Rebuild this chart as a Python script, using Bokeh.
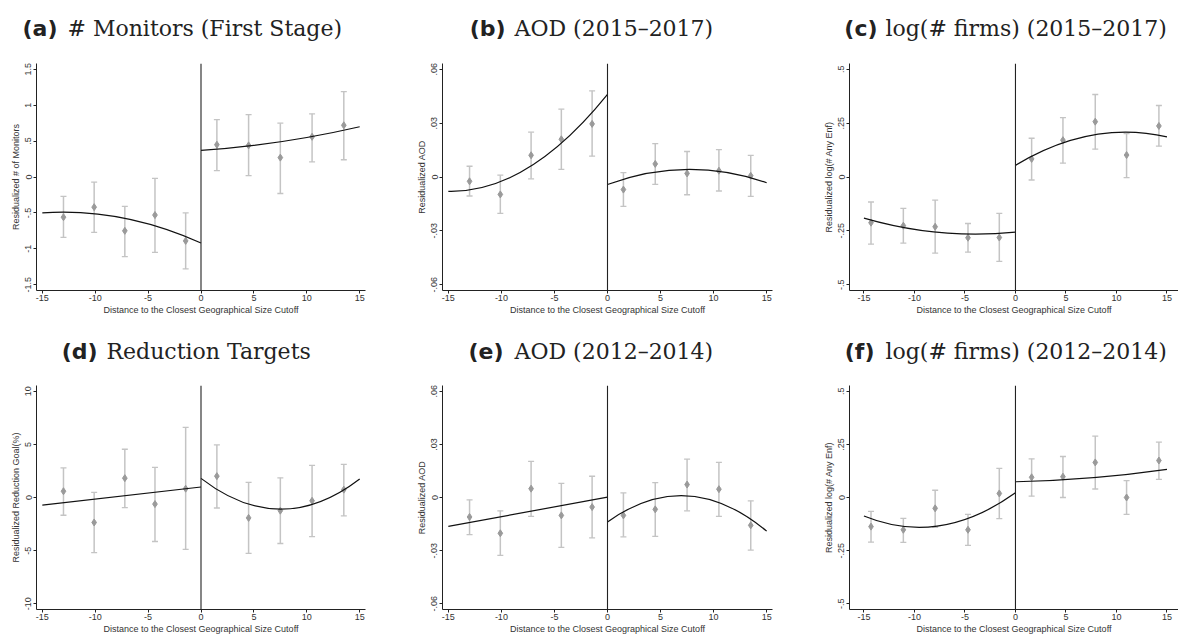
from bokeh.plotting import figure
from bokeh.layouts import column, row
from bokeh.models import Range1d, FixedTicker, Span, ColumnDataSource
from bokeh.core.properties import value
from bokeh.embed import file_html
from bokeh.resources import INLINE

# ---------------- data ----------------
x_ticks = [-15, -10, -5, 0, 5, 10, 15]
x_tick_labels = ["-15", "-10", "-5", "0", "5", "10", "15"]

panel_letters = ["(a)", "(b)", "(c)", "(d)", "(e)", "(f)"]
panel_titles = ["# Monitors (First Stage)", "AOD (2015\u20132017)", "log(# firms) (2015\u20132017)",
                "Reduction Targets", "AOD (2012\u20132014)", "log(# firms) (2012\u20132014)"]
y_labels = ["Residualized # of Monitors", "Residualized AOD", "Residualized log(# Any Enf)",
            "Residualized Reduction Goal(%)", "Residualized AOD", "Residualized log(# Any Enf)"]
x_label = "Distance to the Closest Geographical Size Cutoff"

# bin centres
bins_ab = [-13.0, -10.1, -7.2, -4.35, -1.45, 1.5, 4.5, 7.5, 10.5, 13.5]
bins_cf = [-14.3, -11.1, -7.95, -4.7, -1.6, 1.6, 4.7, 7.9, 11.0, 14.2]
# fitted curves are read at start / middle / end of each side
fit_x_left = [-15, -7.5, 0]
fit_x_right = [0, 7.5, 15]

# (a) # Monitors
a_mean = [-0.56, -0.42, -0.75, -0.53, -0.89, 0.45, 0.44, 0.27, 0.56, 0.72]
a_hi = [-0.27, -0.07, -0.41, -0.02, -0.50, 0.80, 0.87, 0.75, 0.88, 1.19]
a_lo = [-0.84, -0.77, -1.11, -1.05, -1.28, 0.09, 0.02, -0.23, 0.21, 0.24]
a_fit_left = [-0.500, -0.567, -0.920]
a_fit_right = [0.37, 0.49, 0.70]
a_yticks = [-1.5, -1, -0.5, 0, 0.5, 1, 1.5]
a_ylabels = ["-1.5", "-1", "-.5", "0", ".5", "1", "1.5"]

# (b) AOD 2015-2017
b_mean = [-0.0024, -0.0097, 0.0121, 0.0210, 0.0296, -0.0070, 0.0073, 0.0020, 0.0035, 0.0007]
b_hi = [0.0060, 0.0010, 0.0250, 0.0378, 0.0480, 0.0024, 0.0186, 0.0142, 0.0153, 0.0120]
b_lo = [-0.0106, -0.0203, -0.0010, 0.0043, 0.0116, -0.0164, -0.0041, -0.0099, -0.0078, -0.0108]
b_fit_left = [-0.0080, 0.0050, 0.0460]
b_fit_right = [-0.0042, 0.0042, -0.0032]
aod_yticks = [-0.06, -0.03, 0, 0.03, 0.06]
aod_ylabels = ["-.06", "-.03", "0", ".03", ".06"]

# (c) log(# firms) 2015-2017
c_mean = [-0.212, -0.226, -0.231, -0.282, -0.281, 0.084, 0.171, 0.257, 0.102, 0.237]
c_hi = [-0.116, -0.146, -0.107, -0.216, -0.169, 0.180, 0.276, 0.383, 0.202, 0.332]
c_lo = [-0.312, -0.307, -0.353, -0.349, -0.392, -0.014, 0.064, 0.129, -0.003, 0.143]
c_fit_left = [-0.191, -0.258, -0.256]
c_fit_right = [0.054, 0.193, 0.186]
log_yticks = [-0.5, -0.25, 0, 0.25, 0.5]
log_ylabels = ["-.5", "-.25", "0", ".25", ".5"]

# (d) Reduction targets
d_mean = [0.59, -2.35, 1.82, -0.62, 0.83, 2.01, -1.92, -1.24, -0.31, 0.74]
d_hi = [2.78, 0.49, 4.54, 2.84, 6.60, 4.95, 1.42, 1.85, 3.03, 3.12]
d_lo = [-1.67, -5.19, -0.96, -4.14, -4.88, -0.99, -5.25, -4.33, -3.68, -1.73]
d_fit_left = [-0.71, 0.14, 0.99]
d_fit_right = [1.80, -1.10, 1.75]
d_yticks = [-10, -5, 0, 5, 10]
d_ylabels = ["-10", "-5", "0", "5", "10"]

# (e) AOD 2012-2014
e_mean = [-0.0110, -0.0202, 0.0050, -0.0101, -0.0054, -0.0101, -0.0067, 0.0073, 0.0047, -0.0157]
e_hi = [-0.0013, -0.0075, 0.0204, 0.0080, 0.0120, 0.0026, 0.0084, 0.0217, 0.0198, -0.0019]
e_lo = [-0.0210, -0.0327, -0.0107, -0.0282, -0.0228, -0.0222, -0.0219, -0.0075, -0.0107, -0.0297]
e_fit_left = [-0.0163, -0.0081, 0.0002]
e_fit_right = [-0.0138, 0.0010, -0.0190]

# (f) log(# firms) 2012-2014
f_mean = [-0.137, -0.152, -0.051, -0.152, 0.019, 0.095, 0.098, 0.165, 0.000, 0.174]
f_hi = [-0.065, -0.098, 0.034, -0.079, 0.137, 0.182, 0.193, 0.289, 0.079, 0.261]
f_lo = [-0.210, -0.211, -0.140, -0.225, -0.099, 0.006, 0.000, 0.040, -0.079, 0.085]
f_fit_left = [-0.087, -0.133, 0.022]
f_fit_right = [0.074, 0.092, 0.132]

# ---------------- styling / layout ----------------
SANS = "Liberation Sans"
AX = "#222222"
TXT = "#333333"
PT = "#9a9a9a"
BAR = "#c4c4c4"
TOTAL_W = 1178


def ylim(ticks):
    span = ticks[-1] - ticks[0]
    return Range1d(ticks[0] - 0.027 * span, ticks[-1] + 0.027 * span)


def curve(p, xs, ys):
    # quadratic Bezier through the three read points (start, middle, end)
    cy = 2 * ys[1] - 0.5 * (ys[0] + ys[2])
    p.quadratic(x0=[xs[0]], y0=[ys[0]], x1=[xs[2]], y1=[ys[2]], cx=[xs[1]], cy=[cy],
                line_color="#111111", line_width=1.2)


def make_panel(ylabel, bins, mean, lo, hi, fl, fr, yticks, ylabels,
               xr, width, bl, br, height, bt, bb):
    p = figure(width=width, height=height, output_backend="svg", toolbar_location=None,
               x_range=Range1d(*xr), y_range=ylim(yticks),
               min_border_left=bl, min_border_right=br, min_border_top=bt, min_border_bottom=bb)
    p.outline_line_color = None
    p.grid.visible = False
    p.background_fill_color = "white"
    p.border_fill_color = "white"

    for ax in (p.xaxis[0], p.yaxis[0]):
        ax.axis_line_color = AX
        ax.axis_line_width = 1
        ax.major_tick_line_color = AX
        ax.major_tick_out = 3
        ax.major_tick_in = 0
        ax.minor_tick_line_color = None
        ax.major_label_text_font = SANS
        ax.major_label_text_font_size = "9px"
        ax.major_label_text_color = TXT
        ax.axis_label_text_font = SANS
        ax.axis_label_text_font_size = "9px"
        ax.axis_label_text_font_style = "normal"
        ax.axis_label_text_color = TXT
    xa, ya = p.xaxis[0], p.yaxis[0]
    xa.ticker = FixedTicker(ticks=x_ticks, minor_ticks=[])
    xa.major_label_overrides = {t: s for t, s in zip(x_ticks, x_tick_labels)}
    xa.major_label_standoff = 1
    xa.axis_label = x_label
    xa.axis_label_standoff = 1
    ya.ticker = FixedTicker(ticks=yticks, minor_ticks=[])
    ya.major_label_overrides = {t: s for t, s in zip(yticks, ylabels)}
    ya.major_label_orientation = "vertical"
    ya.major_label_standoff = 2
    ya.axis_label = ylabel
    ya.axis_label_standoff = 2

    p.add_layout(Span(location=0, dimension="height", line_color=AX, line_width=1.1))

    src = ColumnDataSource(dict(x=bins, m=mean, lo=lo, hi=hi))
    p.segment(x0="x", y0="lo", x1="x", y1="hi", source=src, line_color=BAR, line_width=1.5)
    p.scatter(x="x", y="lo", source=src, marker="dash", size=6, line_color=BAR, line_width=1.3)
    p.scatter(x="x", y="hi", source=src, marker="dash", size=6, line_color=BAR, line_width=1.3)
    p.scatter(x="x", y="m", source=src, marker="diamond", size=7, fill_color=PT, line_color=PT)

    curve(p, fit_x_left, fl)
    curve(p, fit_x_right, fr)
    return p


def title_strip(letters, titles, letter_right, title_left, baseline, height):
    s = figure(width=TOTAL_W, height=height, output_backend="svg", toolbar_location=None,
               x_range=Range1d(0, TOTAL_W), y_range=Range1d(height, 0),
               min_border=0, min_border_left=0, min_border_right=0,
               min_border_top=0, min_border_bottom=0)
    s.axis.visible = False
    s.grid.visible = False
    s.outline_line_color = None
    s.border_fill_color = "white"
    s.text(x=letter_right, y=[baseline] * len(letters), text=letters,
           text_font=value("DejaVu Sans"), text_font_style="bold",
           text_font_size=value("22px"), text_color="#222222",
           text_align="right", text_baseline="alphabetic")
    s.text(x=title_left, y=[baseline] * len(titles), text=titles,
           text_font=value("DejaVu Serif"), text_font_style="normal",
           text_font_size=value("22px"), text_color="#222222",
           text_align="left", text_baseline="alphabetic")
    return s


XR_AB = (-15.55, 15.55)
XR_CF = (-16.43, 16.14)
W1, BL1, BR1 = 400, 36, 35
W2, BL2, BR2 = 390, 42, 18
W3, BL3, BR3 = 388, 59, 0
S1 = 44
S2 = 44
H1, BT1, BB1 = 278, 19, 32
H2, BT2, BB2 = 270, 19, 25

strip1 = title_strip(panel_letters[:3], panel_titles[:3], [57, 505, 877], [67, 514, 885], 28, S1)
strip2 = title_strip(panel_letters[3:], panel_titles[3:], [97, 503, 874], [106, 514, 885], 29, S2)

pa = make_panel(y_labels[0], bins_ab, a_mean, a_lo, a_hi, a_fit_left, a_fit_right,
                a_yticks, a_ylabels, XR_AB, W1, BL1, BR1, H1, BT1, BB1)
pb = make_panel(y_labels[1], bins_ab, b_mean, b_lo, b_hi, b_fit_left, b_fit_right,
                aod_yticks, aod_ylabels, XR_AB, W2, BL2, BR2, H1, BT1, BB1)
pc = make_panel(y_labels[2], bins_cf, c_mean, c_lo, c_hi, c_fit_left, c_fit_right,
                log_yticks, log_ylabels, XR_CF, W3, BL3, BR3, H1, BT1, BB1)
pd_ = make_panel(y_labels[3], bins_ab, d_mean, d_lo, d_hi, d_fit_left, d_fit_right,
                 d_yticks, d_ylabels, XR_AB, W1, BL1, BR1, H2, BT2, BB2)
pe = make_panel(y_labels[4], bins_ab, e_mean, e_lo, e_hi, e_fit_left, e_fit_right,
                aod_yticks, aod_ylabels, XR_AB, W2, BL2, BR2, H2, BT2, BB2)
pf = make_panel(y_labels[5], bins_cf, f_mean, f_lo, f_hi, f_fit_left, f_fit_right,
                log_yticks, log_ylabels, XR_CF, W3, BL3, BR3, H2, BT2, BB2)

layout = column(strip1, row(pa, pb, pc), strip2, row(pd_, pe, pf))

open("out.html", "w").write(file_html(layout, INLINE))
